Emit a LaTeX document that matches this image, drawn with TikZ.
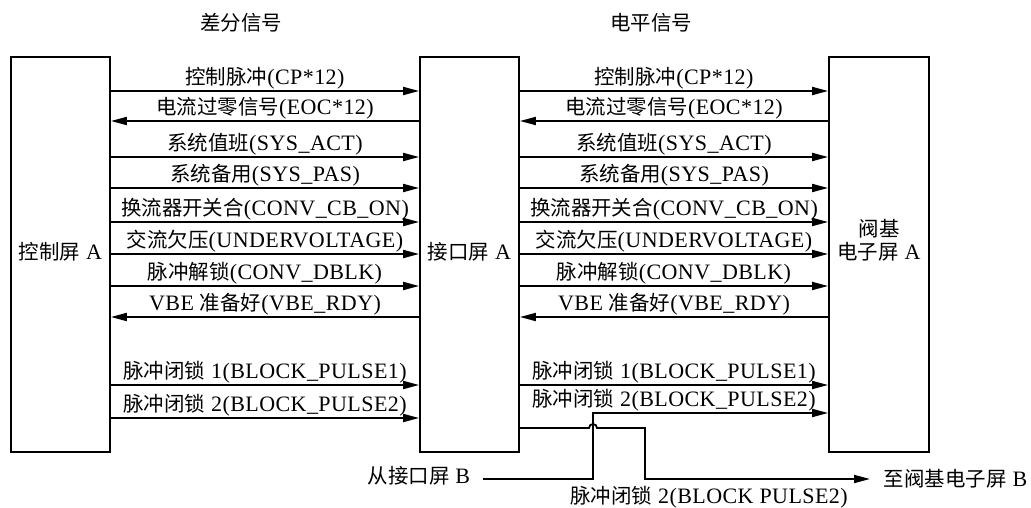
\documentclass[tikz,border=0pt]{standalone}
\usepackage{fontspec}
\setmainfont{Liberation Serif}[LetterSpace=2]
\newfontfamily\cjk{Noto Sans CJK SC}[Scale=0.93]
\usetikzlibrary{arrows.meta}
\newcommand\zh[1]{{\cjk #1}}
\newcommand\conn[4]{\coordinate (yy) at (0,#3);\draw[sigl] (#1|-yy) -- node[lbl]{#4} (#2|-yy);}
\begin{document}
\begin{tikzpicture}[x=1pt,y=-1pt, line width=1.8pt,
  font=\fontsize{22}{26}\selectfont,
  box/.style={draw, line width=1.8pt, minimum width=99pt, minimum height=395pt, inner sep=0},
  sigl/.style={-{Triangle[length=16pt,width=8pt]}},
  lbl/.style={midway, anchor=base, yshift=6.5pt, inner sep=0},
  txt/.style={inner sep=0, anchor=base}]
\useasboundingbox (0,0) rectangle (1031,508);
\node[box] (L) at (60.5,254.5) {};
\node[box] (M) at (469.5,254.5) {};
\node[box, minimum width=100pt] (R) at (879,254.5) {};
\node[txt] (tL) at (60.5,259) {\zh{控制屏} A};
\node[txt] (tM) at (469.5,259) {\zh{接口屏} A};
\node[txt] (tR1) at (879,236) {\zh{阀基}};
\node[txt] (tR2) at (879,259) {\zh{电子屏} A};
\node[txt] (h1) at (241,31) {\zh{差分信号}};
\node[txt] (h2) at (651,31) {\zh{电平信号}};
% left section
\conn{L.east}{M.west}{91}{\zh{控制脉冲}(CP*12)}
\conn{M.west}{L.east}{121}{\zh{电流过零信号}(EOC*12)}
\conn{L.east}{M.west}{157}{\zh{系统值班}(SYS\_ACT)}
\conn{L.east}{M.west}{188}{\zh{系统备用}(SYS\_PAS)}
\conn{L.east}{M.west}{222}{\zh{换流器开关合}(CONV\_CB\_ON)}
\conn{L.east}{M.west}{254}{\zh{交流欠压}(UNDERVOLTAGE)}
\conn{L.east}{M.west}{286}{\zh{脉冲解锁}(CONV\_DBLK)}
\conn{M.west}{L.east}{317}{VBE \zh{准备好}(VBE\_RDY)}
\conn{L.east}{M.west}{385}{\zh{脉冲闭锁} 1(BLOCK\_PULSE1)}
\conn{L.east}{M.west}{418}{\zh{脉冲闭锁} 2(BLOCK\_PULSE2)}
% right section
\conn{M.east}{R.west}{91}{\zh{控制脉冲}(CP*12)}
\conn{R.west}{M.east}{121}{\zh{电流过零信号}(EOC*12)}
\conn{M.east}{R.west}{157}{\zh{系统值班}(SYS\_ACT)}
\conn{M.east}{R.west}{188}{\zh{系统备用}(SYS\_PAS)}
\conn{M.east}{R.west}{222}{\zh{换流器开关合}(CONV\_CB\_ON)}
\conn{M.east}{R.west}{254}{\zh{交流欠压}(UNDERVOLTAGE)}
\conn{M.east}{R.west}{286}{\zh{脉冲解锁}(CONV\_DBLK)}
\conn{R.west}{M.east}{317}{VBE \zh{准备好}(VBE\_RDY)}
\conn{M.east}{R.west}{385}{\zh{脉冲闭锁} 1(BLOCK\_PULSE1)}
% bottom
\node[txt, anchor=base east] (fb) at (471,483) {\zh{从接口屏} B};
\coordinate (b1) at (483,479);
\coordinate (yb) at (0,413);
\draw[sigl] (b1) -- (593,479) -- (593,413) -- (R.west|-yb);
\node[txt] (lb2) at (674,406.5) {\zh{脉冲闭锁} 2(BLOCK\_PULSE2)};
\coordinate (y2) at (0,428);
\coordinate (t1) at (870,479);
\draw[sigl] (M.east|-y2) -- (589,428) arc[start angle=180,end angle=0,radius=4pt] -- (645,428) -- (645,479) -- (t1);
\node[txt, anchor=base west] (tb) at (883,486) {\zh{至阀基电子屏} B};
\node[txt] (lb3) at (709,503) {\zh{脉冲闭锁} 2(BLOCK PULSE2)};
\end{tikzpicture}
\end{document}
